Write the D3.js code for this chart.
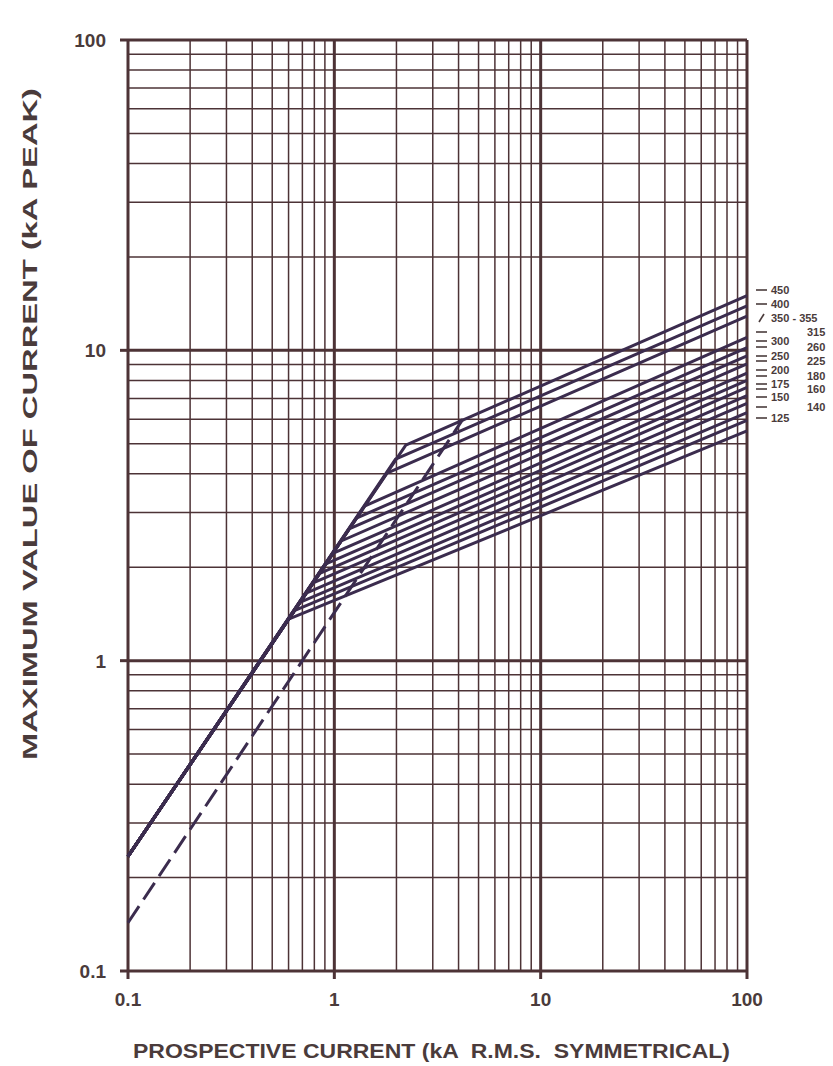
<!DOCTYPE html>
<html>
<head>
<meta charset="utf-8">
<script src="https://cdn.jsdelivr.net/npm/d3@7/dist/d3.min.js"></script>
<style>
  html, body { margin: 0; padding: 0; background: #ffffff; }
  svg { display: block; }
  text { font-family: "Liberation Sans", Arial, sans-serif; font-weight: bold; fill: #4a3b3b; }
</style>
</head>
<body>
<script>
// ---- data ----
const ratings = ["125","140","150","160","175","180","200","225","250","260","300","315","350 - 355","400","450"];
const envelopeStart = [0.1, 0.234];
const kneeX = [0.60, 0.64, 0.68, 0.73, 0.79, 0.85, 0.91, 0.99, 1.08, 1.18, 1.28, 1.40, 1.80, 1.98, 2.22];
const kneeY = [1.36, 1.45, 1.54, 1.65, 1.78, 1.91, 2.05, 2.22, 2.43, 2.66, 2.88, 3.15, 4.02, 4.46, 4.95];
const endX = 100;
const endY = [5.5, 5.95, 6.3, 6.75, 7.15, 7.6, 8.0, 8.45, 9.05, 9.6, 10.2, 11.0, 12.9, 13.9, 15.0];
const dashedLine = [[0.1, 0.143], [4.2, 6.0]];
const xTickLabels = ["0.1", "1", "10", "100"];
const yTickLabels = ["0.1", "1", "10", "100"];
const rightLabels = ["450","400","350 - 355","315","300","260","250","225","200","180","175","160","150","140","125"];
const rightLabelY = [290, 304, 318, 332, 341, 347, 356, 361, 370, 376, 384, 389, 397, 407, 418];
const rightLabelCol = [0, 0, 0, 1, 0, 1, 0, 1, 0, 1, 0, 1, 0, 1, 0];
const xTitle = "PROSPECTIVE CURRENT (kA  R.M.S.  SYMMETRICAL)";
const yTitle = "MAXIMUM VALUE OF CURRENT (kA PEAK)";

const W = 833, H = 1066;
const pLeft = 128, pRight = 747, pTop = 40, pBottom = 971;
const gridColor = "#4d3336";
const curveColor = "#3b2c4e";

const svg = d3.select("body").append("svg").attr("width", W).attr("height", H);

const x = d3.scaleLog().domain([0.1, 100]).range([pLeft, pRight]);
const y = d3.scaleLog().domain([0.1, 100]).range([pBottom, pTop]);

const isMajor = v => Math.abs(Math.log10(v) - Math.round(Math.log10(v))) < 1e-6;

// grid
const gx = x.ticks(40).filter(v => v > 0.1 + 1e-9 && v < 100 - 1e-9);
const gy = y.ticks(40).filter(v => v > 0.1 + 1e-9 && v < 100 - 1e-9);
const grid = svg.append("g");
grid.selectAll("line.vx").data(gx).join("line")
  .attr("x1", d => x(d)).attr("x2", d => x(d)).attr("y1", pTop).attr("y2", pBottom)
  .attr("stroke", gridColor).attr("stroke-width", d => isMajor(d) ? 3 : 1.5);
grid.selectAll("line.hy").data(gy).join("line")
  .attr("y1", d => y(d)).attr("y2", d => y(d)).attr("x1", pLeft).attr("x2", pRight)
  .attr("stroke", gridColor).attr("stroke-width", d => isMajor(d) ? 3 : 1.5);

// frame
const frame = svg.append("g").attr("stroke", gridColor).attr("stroke-width", 3);
frame.append("line").attr("x1", pLeft - 8).attr("x2", pRight).attr("y1", pTop).attr("y2", pTop);
frame.append("line").attr("x1", pLeft - 8).attr("x2", pRight).attr("y1", pBottom).attr("y2", pBottom);
frame.append("line").attr("x1", pLeft).attr("x2", pLeft).attr("y1", pTop).attr("y2", pBottom + 8);
frame.append("line").attr("x1", pRight).attr("x2", pRight).attr("y1", pTop).attr("y2", pBottom);
[1, 10].forEach(v => {
  frame.append("line").attr("x1", pLeft - 8).attr("x2", pLeft).attr("y1", y(v)).attr("y2", y(v));
  frame.append("line").attr("x1", x(v)).attr("x2", x(v)).attr("y1", pBottom).attr("y2", pBottom + 8);
});
frame.append("line").attr("x1", pRight).attr("x2", pRight).attr("y1", pBottom).attr("y2", pBottom + 8);

// curves
const line = d3.line().x(d => x(d[0])).y(d => y(d[1]));
const curves = ratings.map((r, i) => [envelopeStart, [kneeX[i], kneeY[i]], [endX, endY[i]]]);
svg.append("g").selectAll("path").data(curves).join("path")
  .attr("d", line).attr("fill", "none").attr("stroke", curveColor)
  .attr("stroke-width", 3).attr("stroke-linejoin", "round");
svg.append("path").attr("d", line(dashedLine)).attr("fill", "none")
  .attr("stroke", curveColor).attr("stroke-width", 3).attr("stroke-dasharray", "20,8");

// tick labels
const tickVals = [0.1, 1, 10, 100];
svg.append("g").selectAll("text").data(yTickLabels).join("text")
  .attr("x", 106).attr("y", (d, i) => y(tickVals[i]) + 7)
  .attr("text-anchor", "end").attr("font-size", 19).text(d => d);
svg.append("g").selectAll("text").data(xTickLabels).join("text")
  .attr("x", (d, i) => x(tickVals[i])).attr("y", 1006)
  .attr("text-anchor", "middle").attr("font-size", 19).text(d => d);

// axis titles
svg.append("text").attr("x", 133).attr("y", 1058).attr("font-size", 20)
  .attr("textLength", 597).attr("lengthAdjust", "spacingAndGlyphs")
  .style("white-space", "pre").text(xTitle);
svg.append("text").attr("transform", "translate(37,760) rotate(-90)")
  .attr("font-size", 21).attr("textLength", 672).attr("lengthAdjust", "spacingAndGlyphs")
  .text(yTitle);

// right labels
const rl = svg.append("g");
rl.selectAll("text").data(rightLabels).join("text")
  .attr("x", (d, i) => rightLabelCol[i] ? 807 : 771)
  .attr("y", (d, i) => rightLabelY[i] + 4)
  .attr("font-size", 11).text(d => d);
rl.selectAll("line").data(rightLabels).join("line")
  .attr("x1", d => d.startsWith("350") ? 759 : 756)
  .attr("x2", d => d.startsWith("350") ? 764 : 767)
  .attr("y1", (d, i) => d.startsWith("350") ? rightLabelY[i] + 4 : rightLabelY[i])
  .attr("y2", (d, i) => d.startsWith("350") ? rightLabelY[i] - 4 : rightLabelY[i])
  .attr("stroke", "#4a3b3b").attr("stroke-width", 1.6);
</script>
</body>
</html>
